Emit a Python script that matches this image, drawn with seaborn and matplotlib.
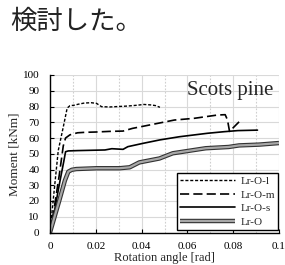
import numpy as np
import pandas as pd
import matplotlib
matplotlib.use("Agg")
import matplotlib.pyplot as plt
import matplotlib.patheffects as pe
import seaborn as sns

# Moment - rotation curves
rot_l = [0, 0.0015, 0.0036, 0.0058, 0.0075, 0.0087, 0.0105, 0.0125, 0.015, 0.018, 0.0203,
         0.0225, 0.026, 0.03, 0.034, 0.038, 0.041, 0.044, 0.046, 0.048]
mom_l = [0, 22, 52, 67, 79, 80.5, 80.8, 81.5, 82.2, 82.4, 82.0,
         79.9, 79.7, 80.0, 80.3, 80.8, 81.3, 81.0, 80.6, 79.5]

rot_m = [0, 0.002, 0.004, 0.0058, 0.0068, 0.0087, 0.012, 0.0152, 0.02, 0.026, 0.0319,
         0.036, 0.045, 0.0543, 0.063, 0.0732, 0.0765, 0.0775, 0.0784, 0.0826]
mom_m = [0, 17, 36, 55, 60, 62, 63.3, 63.6, 63.8, 64.2, 64.4,
         66.1, 68.7, 71.4, 72.5, 74.6, 74.8, 71.5, 64.2, 70.3]

rot_s = [0, 0.002, 0.004, 0.006, 0.0068, 0.008, 0.012, 0.018, 0.024, 0.027, 0.0319,
         0.034, 0.0406, 0.048, 0.0565, 0.0688, 0.076, 0.082, 0.0906]
mom_s = [0, 14, 30, 45, 51.3, 51.8, 52.0, 52.2, 52.4, 53.2, 52.8,
         54.5, 56.6, 58.8, 60.8, 63.0, 64.0, 64.7, 65.0]

rot_o = [0, 0.001, 0.004, 0.0065, 0.008, 0.0095, 0.0115, 0.0203, 0.0304, 0.0348, 0.039,
         0.0478, 0.0536, 0.068, 0.078, 0.0826, 0.0913, 0.1]
mom_o = [0, 5, 20, 33, 38.6, 39.8, 40.3, 40.8, 40.8, 41.4, 44.5,
         47.0, 50.3, 53.5, 54.3, 55.3, 55.8, 56.8]

labels = ["Lr-O-l", "Lr-O-m", "Lr-O-s", "Lr-O"]

sns.set_style("ticks")
plt.rcParams["font.family"] = ["Liberation Serif", "DejaVu Serif"]

fig = plt.figure(figsize=(2.85, 2.65), dpi=100)
ax = fig.add_axes([50 / 285, 1 - 232.5 / 265, 229 / 285, 157.5 / 265])

sns.lineplot(x=rot_l, y=mom_l, ax=ax, sort=False, estimator=None, color="black",
             linewidth=1.0, linestyle=(0, (2.2, 1.3)), label=labels[0])
sns.lineplot(x=rot_m, y=mom_m, ax=ax, sort=False, estimator=None, color="black",
             linewidth=1.2, linestyle=(0, (5.5, 2.5)), label=labels[1])
sns.lineplot(x=rot_s, y=mom_s, ax=ax, sort=False, estimator=None, color="black",
             linewidth=1.2, linestyle="-", label=labels[2])
sns.lineplot(x=rot_o, y=mom_o, ax=ax, sort=False, estimator=None, color="#a8a8a8",
             linewidth=1.6, linestyle="-", label=labels[3], solid_capstyle="butt",
             path_effects=[pe.Stroke(linewidth=3.2, foreground="#333333", capstyle="butt"),
                           pe.Normal()])

ax.set_xlim(0, 0.1)
ax.set_ylim(0, 100)
ax.set_xticks(np.arange(0, 0.101, 0.02))
ax.set_xticklabels(["0", "0.02", "0.04", "0.06", "0.08", "0.1"])
ax.set_xticks(np.arange(0.01, 0.1, 0.02), minor=True)
ax.set_yticks(np.arange(0, 101, 10))

ax.grid(True, which="major", color="#d9d9d9", linewidth=0.8, linestyle="-")
ax.grid(True, which="minor", axis="x", color="#cfcfcf", linewidth=0.8, linestyle=(0, (1.5, 1.5)))
ax.set_axisbelow(True)

for s in ["top", "right"]:
    ax.spines[s].set_visible(False)
for s in ["left", "bottom"]:
    ax.spines[s].set_color("black")
    ax.spines[s].set_linewidth(1.0)

ax.tick_params(which="major", direction="in", length=3, width=0.8, labelsize=8, colors="black")
ax.tick_params(axis="x", which="major", pad=7)
ax.tick_params(axis="y", which="major", pad=7.5)
ax.tick_params(which="minor", length=0)

ax.set_xlabel("Rotation angle [rad]", fontsize=9, labelpad=0.5)
ax.set_ylabel("Moment [kNm]", fontsize=9.5, labelpad=2)

ax.text(0.0975, 87, "Scots pine", fontsize=15, ha="right", va="baseline")

leg = ax.legend(loc="lower right", bbox_to_anchor=(0.996, 0.016), borderaxespad=0,
                fontsize=8, handlelength=4.9, labelspacing=0.34, handletextpad=0.5,
                borderpad=0.3, fancybox=False, framealpha=1)
leg.get_frame().set_edgecolor("black")
leg.get_frame().set_linewidth(1.0)

fig.text(10 / 285, 1 - 21 / 265, "検討した。", fontsize=19, va="center", ha="left",
         color="#222222", family=["Noto Sans CJK JP", "DejaVu Sans"])

fig.savefig("out.png", dpi=100)
